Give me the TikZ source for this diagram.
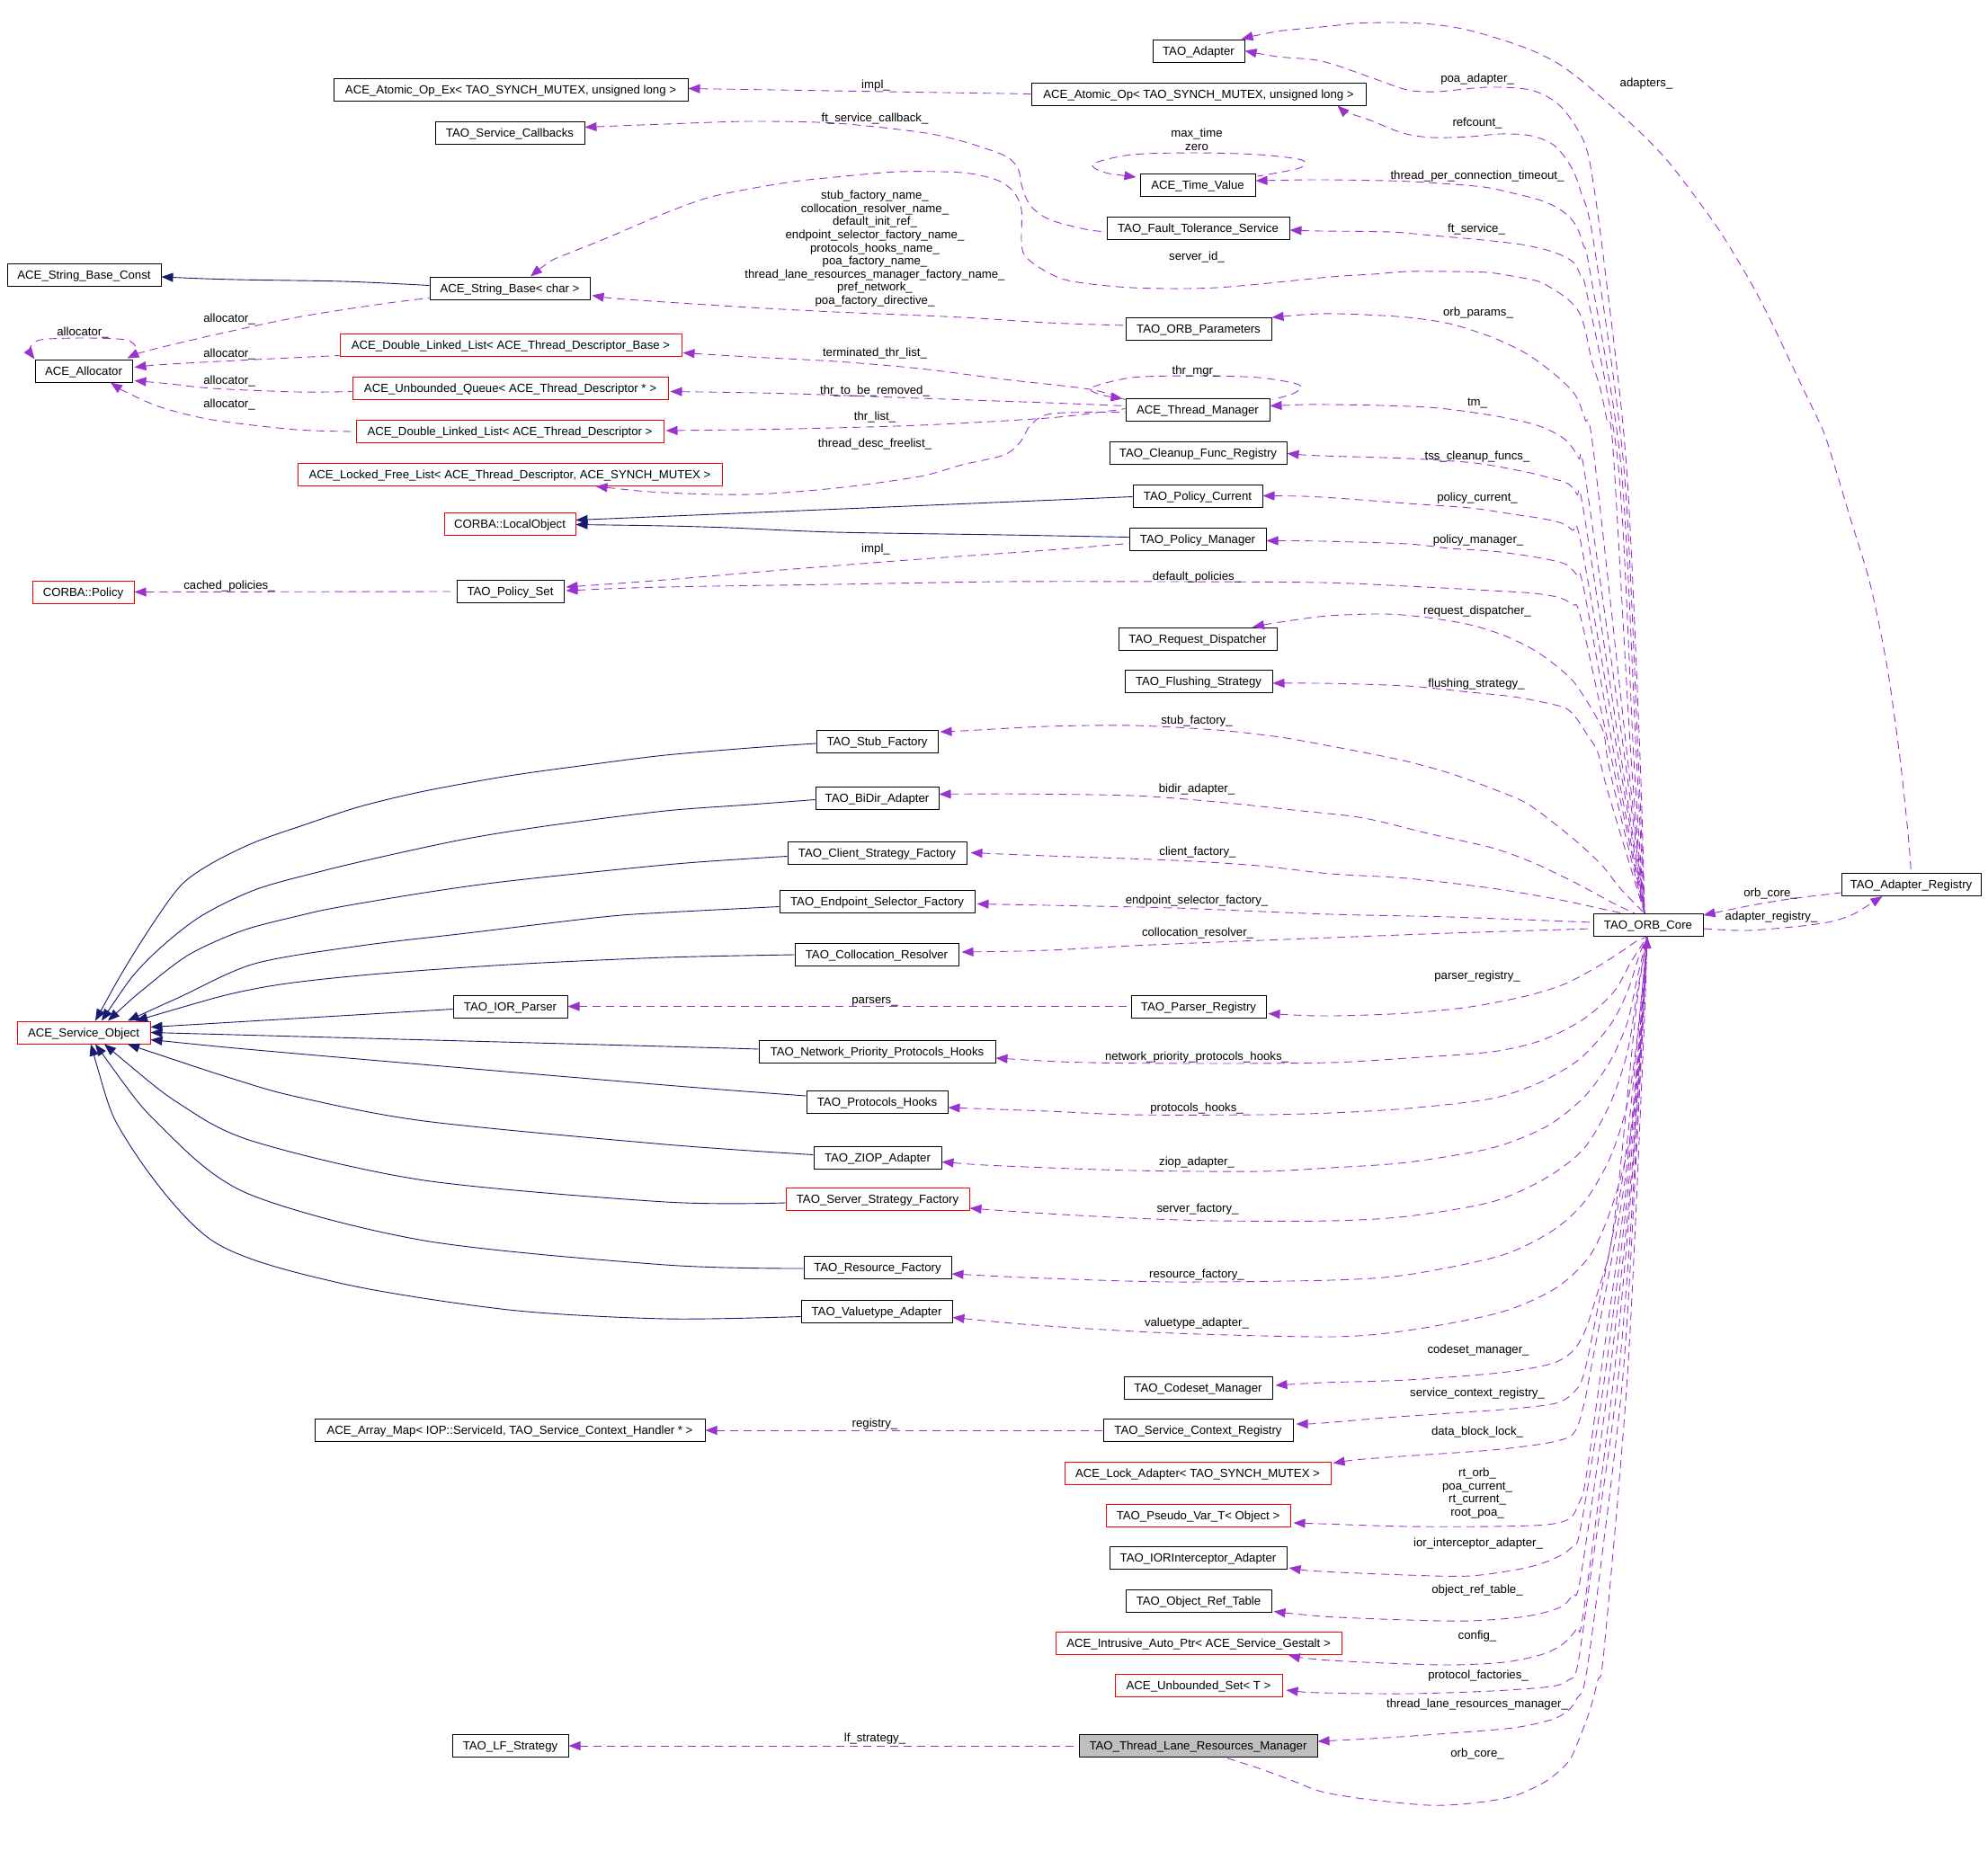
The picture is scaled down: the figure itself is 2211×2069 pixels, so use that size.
\documentclass[tikz,border=0pt]{standalone}
\usepackage{fontspec}
\setmainfont{Liberation Sans}
\usetikzlibrary{arrows.meta,calc}
\definecolor{inhcol}{HTML}{191970}
\definecolor{depcol}{HTML}{9A32CD}
\definecolor{boxred}{HTML}{FF0000}
\definecolor{boxgray}{HTML}{BFBFBF}
\begin{document}
\begin{tikzpicture}[x=1pt,y=-1pt,
  every node/.style={font=\fontsize{13.2}{14.6}\selectfont},
  cls/.style={draw=black, line width=1pt, minimum height=25pt, inner xsep=2pt, inner ysep=0pt, text height=9.5pt, text depth=0pt},
  rcls/.style={cls, draw=boxred},
  lab/.style={inner sep=0pt, text height=9.5pt, text depth=0pt},
  labm/.style={inner sep=0pt, align=center, anchor=north},
  inh/.style={draw=inhcol, line width=0.9pt, {Triangle[length=13pt,width=10pt]}-},
  dep/.style={draw=depcol, line width=0.9pt, dash pattern=on 9pt off 6pt, {Triangle[length=13pt,width=10pt]}-},
]
\useasboundingbox (0,0) rectangle (2211,2069);

% ---------------- nodes ----------------
\node[cls, minimum width=394pt] (atomicex) at (568,99.5) {ACE\_Atomic\_Op\_Ex< TAO\_SYNCH\_MUTEX, unsigned long >};
\node[cls, minimum width=166pt] (svccb) at (567,147.5) {TAO\_Service\_Callbacks};
\node[cls, minimum width=171pt] (sbconst) at (93.5,306) {ACE\_String\_Base\_Const};
\node[cls, minimum width=178pt] (sbchar) at (567,320.5) {ACE\_String\_Base< char >};
\node[cls, minimum width=108pt] (alloc) at (93,412.5) {ACE\_Allocator};
\node[rcls, minimum width=380pt] (dllbase) at (568,383.5) {ACE\_Double\_Linked\_List< ACE\_Thread\_Descriptor\_Base >};
\node[rcls, minimum width=351pt] (uq) at (567.5,431.5) {ACE\_Unbounded\_Queue< ACE\_Thread\_Descriptor * >};
\node[rcls, minimum width=342pt] (dll) at (567,480) {ACE\_Double\_Linked\_List< ACE\_Thread\_Descriptor >};
\node[rcls, minimum width=472pt] (lfl) at (567,528) {ACE\_Locked\_Free\_List< ACE\_Thread\_Descriptor, ACE\_SYNCH\_MUTEX >};
\node[cls, minimum width=102pt] (adapter) at (1333,56.5) {TAO\_Adapter};
\node[cls, minimum width=372pt] (atomic) at (1333,104.5) {ACE\_Atomic\_Op< TAO\_SYNCH\_MUTEX, unsigned long >};
\node[cls, minimum width=128pt] (timev) at (1332,206) {ACE\_Time\_Value};
\node[cls, minimum width=203pt] (fts) at (1332.5,254) {TAO\_Fault\_Tolerance\_Service};
\node[cls, minimum width=162pt] (orbparams) at (1333,366) {TAO\_ORB\_Parameters};
\node[cls, minimum width=160pt] (thrmgr) at (1332,455.5) {ACE\_Thread\_Manager};
\node[cls, minimum width=197pt] (cleanup) at (1332.5,503.5) {TAO\_Cleanup\_Func\_Registry};
\node[rcls, minimum width=146pt] (localobj) at (567,582.5) {CORBA::LocalObject};
\node[rcls, minimum width=113pt] (policy) at (92.5,658.5) {CORBA::Policy};
\node[cls, minimum width=119pt] (policyset) at (567.5,658) {TAO\_Policy\_Set};
\node[cls, minimum width=144pt] (policycur) at (1332,551.5) {TAO\_Policy\_Current};
\node[cls, minimum width=152pt] (policymgr) at (1332,599.5) {TAO\_Policy\_Manager};
\node[cls, minimum width=176pt] (reqdisp) at (1332,710.5) {TAO\_Request\_Dispatcher};
\node[cls, minimum width=164pt] (flush) at (1333,758) {TAO\_Flushing\_Strategy};
\node[cls, minimum width=135pt] (stub) at (975.5,825) {TAO\_Stub\_Factory};
\node[cls, minimum width=137pt] (bidir) at (975.5,887.5) {TAO\_BiDir\_Adapter};
\node[cls, minimum width=199pt] (client) at (975.5,948.5) {TAO\_Client\_Strategy\_Factory};
\node[cls, minimum width=217pt] (endpoint) at (975.5,1002.5) {TAO\_Endpoint\_Selector\_Factory};
\node[cls, minimum width=155pt] (adreg) at (2125.5,984) {TAO\_Adapter\_Registry};
\node[cls, minimum width=122pt] (orbcore) at (1833,1029) {TAO\_ORB\_Core};
\node[rcls, minimum width=148pt] (svcobj) at (93,1148.5) {ACE\_Service\_Object};
\node[cls, minimum width=127pt] (iorparser) at (567.5,1119.5) {TAO\_IOR\_Parser};
\node[cls, minimum width=182pt] (coll) at (975,1062) {TAO\_Collocation\_Resolver};
\node[cls, minimum width=150pt] (parserreg) at (1333,1119.5) {TAO\_Parser\_Registry};
\node[cls, minimum width=263pt] (nph) at (975.5,1170) {TAO\_Network\_Priority\_Protocols\_Hooks};
\node[cls, minimum width=157pt] (ph) at (975.5,1226) {TAO\_Protocols\_Hooks};
\node[cls, minimum width=142pt] (ziop) at (976,1287.5) {TAO\_ZIOP\_Adapter};
\node[rcls, minimum width=204pt] (ssf) at (976,1334) {TAO\_Server\_Strategy\_Factory};
\node[cls, minimum width=164pt] (rf) at (976,1410) {TAO\_Resource\_Factory};
\node[cls, minimum width=168pt] (vta) at (975,1458.5) {TAO\_Valuetype\_Adapter};
\node[cls, minimum width=434pt] (arraymap) at (567,1591) {ACE\_Array\_Map< IOP::ServiceId, TAO\_Service\_Context\_Handler * >};
\node[cls, minimum width=129pt] (lfs) at (567.5,1942) {TAO\_LF\_Strategy};
\node[cls, minimum width=165pt] (codeset) at (1332.5,1544) {TAO\_Codeset\_Manager};
\node[cls, minimum width=211pt] (scr) at (1332.5,1591) {TAO\_Service\_Context\_Registry};
\node[rcls, minimum width=296pt] (lockad) at (1332,1638.5) {ACE\_Lock\_Adapter< TAO\_SYNCH\_MUTEX >};
\node[rcls, minimum width=205pt] (pseudo) at (1332.5,1686) {TAO\_Pseudo\_Var\_T< Object >};
\node[cls, minimum width=197pt] (iori) at (1332.5,1733) {TAO\_IORInterceptor\_Adapter};
\node[cls, minimum width=162pt] (objref) at (1333,1780.5) {TAO\_Object\_Ref\_Table};
\node[rcls, minimum width=318pt] (iap) at (1333,1828) {ACE\_Intrusive\_Auto\_Ptr< ACE\_Service\_Gestalt >};
\node[rcls, minimum width=186pt] (uset) at (1333,1875) {ACE\_Unbounded\_Set< T >};
\node[cls, fill=boxgray, minimum width=265pt] (tlrm) at (1332.5,1942) {TAO\_Thread\_Lane\_Resources\_Manager};

\coordinate (oct) at ($(orbcore.north)+(-4,0)$);
\coordinate (ocb) at ($(orbcore.south)+(-1,0)$);

% ---------------- inheritance ----------------
\draw[inh] plot[smooth] coordinates {($(sbconst.east)+(0,2)$) (262,311) (382,313) ($(sbchar.west)+(0,-3)$)};
\draw[inh] ($(localobj.east)+(0,-4)$) -- ($(policycur.west)+(0,1)$);
\draw[inh] plot[smooth] coordinates {($(localobj.east)+(0,1)$) (740,585) (811,587) (929,592) (1117,595) ($(policymgr.west)+(0,-2)$)};
\draw[inh] plot[smooth] coordinates {($(svcobj.north)+(13,0)$) (140,1075) (175,1020) (203,983) (236,960) (283,937) (340,917) (401,897) (472,880) (566,863) (660,850) (740,840) (834,832) ($(stub.west)+(0,2)$)};
\draw[inh] plot[smooth] coordinates {($(svcobj.north)+(20,0)$) (160,1072) (219,1022) (283,990) (354,970) (425,953) (519,933) (613,918) (740,902) (834,895) ($(bidir.west)+(0,2)$)};
\draw[inh] plot[smooth] coordinates {($(svcobj.north)+(27,0)$) (160,1100) (210,1062) (270,1035) (335,1018) (377,1009) (472,993) (566,980) (740,962) (834,955) ($(client.west)+(0,4)$)};
\draw[inh] plot[smooth] coordinates {($(svcobj.north)+(49,0)$) (198,1110) (283,1072) (401,1052) (519,1038) (670,1020) (740,1015) ($(endpoint.west)+(0,6)$)};
\draw[inh] plot[smooth] coordinates {($(svcobj.north)+(58,0)$) (283,1100) (401,1085) (566,1073) (740,1065) (coll.west)};
\draw[inh] ($(svcobj.east)+(0,-6)$) -- ($(iorparser.west)+(0,3)$);
\draw[inh] plot[smooth] coordinates {(svcobj.east) (740,1164) ($(nph.west)+(0,-3)$)};
\draw[inh] plot[smooth] coordinates {($(svcobj.east)+(0,8)$) (330,1172) (740,1207) ($(ph.west)+(0,-7)$)};
\draw[inh] plot[smooth] coordinates {($(svcobj.south)+(49,0)$) (259,1200) (330,1220) (472,1247) (740,1273) ($(ziop.west)+(0,-3)$)};
\draw[inh] plot[smooth] coordinates {($(svcobj.south)+(23,0)$) (203,1230) (283,1270) (472,1313) (740,1337) ($(ssf.west)+(0,4)$)};
\draw[inh] plot[smooth] coordinates {($(svcobj.south)+(13,0)$) (179,1253) (274,1327) (472,1380) (740,1407) ($(rf.west)+(0,1)$)};
\draw[inh] plot[smooth] coordinates {($(svcobj.south)+(8,0)$) (142,1270) (236,1380) (377,1427) (566,1457) (740,1467) ($(vta.west)+(0,6)$)};

% ---------------- uses (left part) ----------------
\draw[dep] ($(atomicex.east)+(0,-1)$) -- (atomic.west);
\draw[dep] plot[smooth] coordinates {($(svccb.east)+(0,-6)$) (740,138) (834,135) (929,137) (1023,147) (1070,157) (1117,173) (1132,187) (1136,205) (1141,220) (1150,233) (1169,245) (1207,255) ($(fts.west)+(0,4)$)};
\draw[dep] plot[smooth] coordinates {($(sbchar.east)+(2,8)$) (684,332) (740,336) (834,342) (929,347) (1070,353) (1165,359) ($(orbparams.west)+(0,-4)$)};
\draw[dep] plot[smooth] coordinates {($(alloc.north west)+(0,0)$) (33,388) (45,378) (94,376) (140,378) (151,387) ($(alloc.north east)+(-4,0)$)};
\draw[dep] plot[smooth] coordinates {($(alloc.north east)+(-6,-1)$) (165,390) (236,373) (330,353) (425,338) ($(sbchar.south west)+(0,-2)$)};
\draw[dep] plot[smooth] coordinates {($(alloc.east)+(2,-4)$) (189,405) (283,400) ($(dllbase.west)+(0,12)$)};
\draw[dep] plot[smooth] coordinates {($(alloc.east)+(2,11)$) (189,427) (236,432) (330,436) ($(uq.west)+(0,4)$)};
\draw[dep] plot[smooth] coordinates {($(alloc.south)+(30,0)$) (142,437) (179,453) (236,467) (330,478) (dll.west)};
\draw[dep] plot[smooth] coordinates {($(dllbase.east)+(1,9)$) (834,397) (929,402) (1023,410) (1117,422) (1212,433) ($(thrmgr.west)+(0,-11)$)};
\draw[dep] plot[smooth] coordinates {($(uq.east)+(2,4)$) (882,438) (1023,443) (1165,448) ($(thrmgr.west)+(0,-4)$)};
\draw[dep] plot[smooth] coordinates {($(dll.east)+(2,-1)$) (882,477) (1023,473) (1165,465) (1235,457) ($(thrmgr.west)+(0,-1)$)};
\draw[dep] plot[smooth] coordinates {($(lfl.south east)+(-141,0)$) (740,548) (834,550) (929,543) (1023,530) (1070,517) (1117,506) (1136,490) (1146,473) (1170,460) ($(thrmgr.west)+(0,3)$)};
\draw[dep] plot[smooth] coordinates {($(thrmgr.north west)+(-3,1)$) (1221,438) (1214,431) (1259,420) (1330,418) (1400,420) (1445,428) (1440,437) ($(thrmgr.north east)+(3,2)$)};
\draw[dep] plot[smooth] coordinates {($(timev.north west)+(-4,4)$) (1226,191) (1216,182) (1259,172) (1330,170) (1400,172) (1448,178) (1445,187) ($(timev.north east)+(2,3)$)};
\draw[dep] (policy.east) -- (policyset.west);
\draw[dep] plot[smooth] coordinates {($(policyset.east)+(2,-5)$) (740,645) (882,633) (1023,622) (1165,612) ($(policymgr.west)+(0,5)$)};
\draw[dep] (iorparser.east) -- (parserreg.west);
\draw[dep] (arraymap.east) -- (scr.west);
\draw[dep] (lfs.east) -- (tlrm.west);

% ---------------- uses (ORB core, upward) ----------------
\draw[dep] plot[smooth] coordinates {(adapter.east) (1420,63) (1470,68) (1527,87) (1565,100) (1598,102) (1654,97) (1702,100) (1732,115) (1754,143) (1768,180) (1785,300) (1809,520) (1824,843) (oct)};
\draw[dep] plot[smooth] coordinates {($(atomic.south east)+(-32,0)$) (1498,125) (1522,133) (1560,148) (1593,153) (1635,152) (1668,149) (1697,150) (1716,155) (1730,163) (1742,177) (1751,193) (1758,213) (1772,267) (1806,520) (1822,843) (oct)};
\draw[dep] plot[smooth] coordinates {($(timev.east)+(0,-5)$) (1470,200) (1541,201) (1588,203) (1650,208) (1683,215) (1711,222) (1730,230) (1744,240) (1754,253) (1761,273) (1768,300) (1803,520) (1820,843) (oct)};
\draw[dep] plot[smooth] coordinates {($(fts.east)+(0,2)$) (1470,257) (1546,258) (1593,262) (1650,267) (1692,272) (1720,278) (1739,285) (1751,293) (1758,307) (1765,327) (1800,520) (1817,843) (oct)};
\draw[dep] plot[smooth] coordinates {($(sbchar.north)+(23,0)$) (613,290) (637,280) (679,263) (740,237) (787,220) (834,210) (882,202) (929,197) (999,191) (1070,192) (1108,200) (1127,213) (1136,233) (1136,267) (1139,283) (1155,297) (1188,312) (1259,320) (1353,320) (1480,308) (1527,305) (1565,302) (1612,302) (1654,303) (1687,308) (1711,313) (1728,322) (1744,333) (1756,347) (1763,367) (1770,400) (1780,433) (1787,467) (1794,500) (1814,843) (oct)};
\draw[dep] plot[smooth] coordinates {(orbparams.north east) (1470,349) (1517,350) (1565,353) (1612,360) (1659,375) (1697,393) (1725,413) (1744,430) (1754,443) (1763,467) (1772,500) (1810,843) (oct)};
\draw[dep] plot[smooth] coordinates {($(thrmgr.east)+(0,-4)$) (1480,450) (1588,453) (1659,462) (1706,472) (1730,482) (1744,492) (1756,510) (1763,530) (1807,843) (oct)};
\draw[dep] plot[smooth] coordinates {($(cleanup.east)+(0,1)$) (1470,507) (1565,510) (1640,515) (1697,525) (1725,532) (1744,538) (1754,550) (1761,567) (1803,843) (oct)};
\draw[dep] plot[smooth] coordinates {(policycur.east) (1470,553) (1565,560) (1635,565) (1683,572) (1716,577) (1737,582) (1749,590) (1758,603) (1800,843) (oct)};
\draw[dep] plot[smooth] coordinates {($(policymgr.east)+(0,2)$) (1470,602) (1565,605) (1612,610) (1659,613) (1697,618) (1725,623) (1742,628) (1754,640) (1761,653) (1796,843) (oct)};
\draw[dep] plot[smooth] coordinates {($(policyset.east)+(2,-1)$) (740,653) (929,650) (1117,647) (1306,647) (1470,648) (1565,652) (1659,657) (1706,660) (1735,665) (1749,673) (1758,687) (1792,843) (oct)};
\draw[dep] plot[smooth] coordinates {($(reqdisp.north)+(61,0)$) (1424,692) (1477,685) (1541,683) (1588,687) (1635,695) (1673,707) (1706,723) (1730,740) (1749,757) (1763,777) (1775,797) (1784,817) (1791,860) (oct)};
\draw[dep] plot[smooth] coordinates {($(flush.east)+(0,2)$) (1470,760) (1565,763) (1635,770) (1683,775) (1720,782) (1742,788) (1754,800) (1765,817) (1777,837) (1788,880) (oct)};
\draw[dep] plot[smooth] coordinates {($(stub.north east)+(2,2)$) (1070,813) (1165,808) (1259,807) (1353,812) (1424,820) (1480,830) (1517,837) (1565,847) (1612,860) (1659,877) (1697,893) (1730,917) (1758,940) (1782,963) (1801,987) (1820,1007) (oct)};
\draw[dep] plot[smooth] coordinates {($(bidir.east)+(0,-4)$) (1117,883) (1259,885) (1353,892) (1448,902) (1517,910) (1588,927) (1659,943) (1706,960) (1754,983) (1791,1003) ($(orbcore.north)+(-15,0)$)};
\draw[dep] plot[smooth] coordinates {($(client.east)+(4,0)$) (1165,952) (1306,957) (1400,963) (1480,972) (1565,977) (1659,988) (1730,1000) (1777,1010) ($(orbcore.north)+(-28,0)$)};
\draw[dep] plot[smooth] coordinates {($(endpoint.east)+(2,3)$) (1165,1007) (1306,1010) (1480,1017) (1612,1020) ($(orbcore.west)+(0,-3)$)};
\draw[dep] plot[smooth] coordinates {($(coll.east)+(3,-3)$) (1165,1057) (1259,1052) (1353,1048) (1480,1043) (1612,1038) ($(orbcore.west)+(0,4)$)};

% ---------------- uses (ORB core, downward) ----------------
\draw[dep] plot[smooth] coordinates {($(parserreg.east)+(2,8)$) (1480,1130) (1565,1127) (1635,1120) (1697,1108) (1739,1095) (1772,1078) (1801,1060) (1820,1047) (ocb)};
\draw[dep] plot[smooth] coordinates {($(nph.east)+(0,7)$) (1212,1182) (1353,1183) (1480,1182) (1565,1177) (1659,1170) (1715,1157) (1762,1133) (1795,1103) (1814,1070) (ocb)};
\draw[dep] plot[smooth] coordinates {($(ph.east)+(0,6)$) (1165,1236) (1259,1240) (1400,1240) (1480,1238) (1565,1233) (1659,1222) (1715,1203) (1758,1177) (1791,1140) (1810,1103) (1824,1060) (ocb)};
\draw[dep] plot[smooth] coordinates {($(ziop.east)+(0,5)$) (1117,1297) (1259,1302) (1400,1303) (1480,1299) (1565,1293) (1659,1277) (1720,1253) (1762,1220) (1791,1180) (1810,1137) (1821,1087) (ocb)};
\draw[dep] plot[smooth] coordinates {($(ssf.east)+(0,10)$) (1165,1350) (1259,1355) (1353,1358) (1480,1358) (1565,1353) (1659,1337) (1720,1310) (1762,1277) (1791,1227) (1810,1170) (1821,1103) (ocb)};
\draw[dep] plot[smooth] coordinates {($(rf.east)+(0,7)$) (1165,1422) (1306,1426) (1480,1424) (1565,1418) (1668,1397) (1725,1370) (1762,1337) (1791,1287) (1810,1227) (1821,1153) (ocb)};
\draw[dep] plot[smooth] coordinates {($(vta.east)+(0,7)$) (1165,1475) (1306,1483) (1480,1487) (1565,1480) (1668,1460) (1730,1433) (1768,1397) (1791,1347) (1810,1280) (1821,1203) (ocb)};
\draw[dep] plot[smooth] coordinates {($(codeset.east)+(3,-3)$) (1470,1538) (1565,1535) (1668,1527) (1725,1517) (1749,1503) (1763,1480) (1777,1437) (1791,1387) (1802,1300) (1820,1120) (ocb)};
\draw[dep] plot[smooth] coordinates {($(scr.east)+(3,-7)$) (1470,1583) (1541,1577) (1612,1572) (1683,1567) (1730,1561) (1749,1550) (1761,1530) (1776,1460) (1806,1300) (ocb)};
\draw[dep] plot[smooth] coordinates {($(lockad.north east)+(2,2)$) (1517,1623) (1588,1618) (1659,1613) (1716,1606) (1744,1599) (1754,1588) (1761,1564) (1768,1530) (1809,1300) (ocb)};
\draw[dep] plot[smooth] coordinates {($(pseudo.east)+(3,8)$) (1470,1695) (1565,1698) (1659,1698) (1720,1696) (1746,1689) (1756,1672) (1763,1649) (1780,1530) (1811,1300) (ocb)};
\draw[dep] plot[smooth] coordinates {($(iori.east)+(2,11)$) (1470,1748) (1565,1752) (1635,1753) (1697,1744) (1730,1733) (1749,1720) (1758,1699) (1785,1530) (1813,1300) (ocb)};
\draw[dep] plot[smooth] coordinates {($(objref.south east)+(2,-1)$) (1470,1798) (1565,1802) (1635,1803) (1697,1798) (1735,1788) (1749,1774) (1758,1754) (1790,1530) (1815,1300) (ocb)};
\draw[dep] plot[smooth] coordinates {($(iap.south)+(100,0)$) (1448,1844) (1480,1847) (1541,1850) (1612,1852) (1673,1849) (1716,1840) (1739,1828) (1754,1811) (1761,1794) (1795,1530) (1816,1300) (ocb)};
\draw[dep] plot[smooth] coordinates {($(uset.east)+(4,5)$) (1470,1883) (1565,1884) (1659,1881) (1725,1876) (1744,1869) (1754,1855) (1768,1760) (1800,1530) (1818,1300) (ocb)};
\draw[dep] plot[smooth] coordinates {($(tlrm.east)+(0,-5)$) (1541,1933) (1612,1928) (1683,1922) (1725,1913) (1744,1903) (1754,1889) (1763,1869) (1778,1760) (1805,1530) (1819,1300) (ocb)};
\draw[dep] plot[smooth] coordinates {(ocb) (1826,1200) (1810,1530) (1784,1835) (1777,1869) (1768,1903) (1754,1940) (1744,1960) (1720,1981) (1683,1998) (1635,2006) (1588,2008) (1517,2001) (1470,1993) (1438,1981) (1400,1967) ($(tlrm.south)+(30,0)$)};

% ---------------- adapter registry ----------------
\draw[dep] plot[smooth] coordinates {($(adreg.south)+(-32,0)$) (2084,1003) (2061,1017) (2037,1025) (2004,1030) (1943,1035) ($(orbcore.east)+(0,4)$)};
\draw[dep] plot[smooth] coordinates {($(orbcore.north east)+(0,2)$) (1943,1008) (1990,1000) ($(adreg.west)+(0,9)$)};
\draw[dep] plot[smooth] coordinates {($(adapter.north east)+(-4,0)$) (1419,35) (1480,29) (1505,26) (1553,25) (1593,27) (1631,33) (1673,45) (1706,57) (1735,72) (1763,93) (1791,117) (1824,147) (1853,177) (1881,213) (1910,253) (1933,290) (1952,323) (1971,360) (1990,400) (2009,440) (2028,480) (2040,517) (2058,577) (2080,650) (2099,743) (2113,843) (2122,927) (adreg.north)};

% ---------------- labels ----------------
\node[lab] (l1) at (974,94) {impl\_};
\node[lab] (l2) at (973,131) {ft\_service\_callback\_};
\node[labm] (l3) at (1331,143) {max\_time\\zero};
\node[labm] (l4) at (973,212) {stub\_factory\_name\_\\collocation\_resolver\_name\_\\default\_init\_ref\_\\endpoint\_selector\_factory\_name\_\\protocols\_hooks\_name\_\\poa\_factory\_name\_\\thread\_lane\_resources\_manager\_factory\_name\_\\pref\_network\_\\poa\_factory\_directive\_};
\node[lab] (l5) at (1331,285) {server\_id\_};
\node[lab] (l6) at (973,392) {terminated\_thr\_list\_};
\node[lab] (l7) at (1330,412) {thr\_mgr\_};
\node[lab] (l8) at (973,434) {thr\_to\_be\_removed\_};
\node[lab] (l9) at (973,463) {thr\_list\_};
\node[lab] (l10) at (973,493) {thread\_desc\_freelist\_};
\node[lab] (l11) at (92,369) {allocator\_};
\node[lab] (l12) at (255,354) {allocator\_};
\node[lab] (l13) at (255,393) {allocator\_};
\node[lab] (l14) at (255,423) {allocator\_};
\node[lab] (l15) at (255,449) {allocator\_};
\node[lab] (l16) at (1643,87) {poa\_adapter\_};
\node[lab] (l17) at (1831,92) {adapters\_};
\node[lab] (l18) at (1643,136) {refcount\_};
\node[lab] (l19) at (1643,195) {thread\_per\_connection\_timeout\_};
\node[lab] (l20) at (1642,254) {ft\_service\_};
\node[lab] (l21) at (1644,347) {orb\_params\_};
\node[lab] (l22) at (1643,447) {tm\_};
\node[lab] (l23) at (1643,507) {tss\_cleanup\_funcs\_};
\node[lab] (l24) at (255,651) {cached\_policies\_};
\node[lab] (l25) at (1643,553) {policy\_current\_};
\node[lab] (l26) at (1644,600) {policy\_manager\_};
\node[lab] (l27) at (974,610) {impl\_};
\node[lab] (l28) at (1331,641) {default\_policies\_};
\node[lab] (l29) at (1643,679) {request\_dispatcher\_};
\node[lab] (l30) at (1642,760) {flushing\_strategy\_};
\node[lab] (l31) at (1331,801) {stub\_factory\_};
\node[lab] (l32) at (1331,877) {bidir\_adapter\_};
\node[lab] (l33) at (1332,947) {client\_factory\_};
\node[lab] (l34) at (1331,1001) {endpoint\_selector\_factory\_};
\node[lab] (l35) at (1969,993) {orb\_core\_};
\node[lab] (l36) at (1970,1019) {adapter\_registry\_};
\node[lab] (l37) at (1332,1037) {collocation\_resolver\_};
\node[lab] (l38) at (973,1112) {parsers\_};
\node[lab] (l39) at (1643,1085) {parser\_registry\_};
\node[lab] (l40) at (1331,1175) {network\_priority\_protocols\_hooks\_};
\node[lab] (l41) at (1331,1232) {protocols\_hooks\_};
\node[lab] (l42) at (1331,1292) {ziop\_adapter\_};
\node[lab] (l43) at (1332,1344) {server\_factory\_};
\node[lab] (l44) at (1331,1417) {resource\_factory\_};
\node[lab] (l45) at (1331,1471) {valuetype\_adapter\_};
\node[lab] (l46) at (1644,1501) {codeset\_manager\_};
\node[lab] (l47) at (973,1583) {registry\_};
\node[lab] (l48) at (1643,1549) {service\_context\_registry\_};
\node[lab] (l49) at (1643,1592) {data\_block\_lock\_};
\node[labm] (l50) at (1643,1633) {rt\_orb\_\\poa\_current\_\\rt\_current\_\\root\_poa\_};
\node[lab] (l51) at (1644,1716) {ior\_interceptor\_adapter\_};
\node[lab] (l52) at (1643,1768) {object\_ref\_table\_};
\node[lab] (l53) at (1643,1819) {config\_};
\node[lab] (l54) at (1644,1863) {protocol\_factories\_};
\node[lab] (l55) at (1643,1895) {thread\_lane\_resources\_manager\_};
\node[lab] (l56) at (1643,1950) {orb\_core\_};
\node[lab] (l57) at (973,1933) {lf\_strategy\_};
\end{tikzpicture}
\end{document}
